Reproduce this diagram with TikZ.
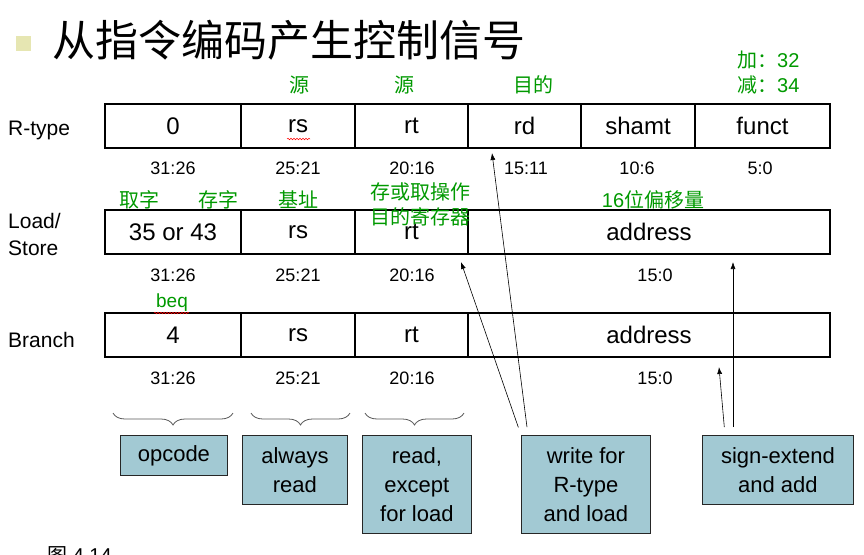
\documentclass[tikz,border=0pt]{standalone}
\usepackage{fontspec}
\setmainfont{Liberation Sans}
\newfontfamily\cjk{Noto Sans CJK SC}
\usetikzlibrary{arrows.meta,decorations.pathreplacing,decorations.pathmorphing}

\definecolor{notegreen}{RGB}{0,153,0}
\definecolor{boxblue}{RGB}{162,201,211}
\definecolor{bulletcol}{RGB}{230,230,178}
\newcommand\fsz[2]{\fontsize{#1}{#2}\selectfont}

\tikzset{
  field/.style={draw, line width=1.8pt, minimum height=44pt, inner sep=0pt, font=\fsz{24}{28}},
  bits/.style={font=\fsz{18}{22}},
  note/.style={text=notegreen, font=\fsz{20}{24}\cjk, inner sep=0pt},
  rowname/.style={anchor=west, font=\fsz{21}{27}, align=left, inner sep=0pt},
  infobox/.style={draw=black!85, line width=0.8pt, fill=boxblue, anchor=north west,
    align=center, inner sep=0pt, font=\fsz{22}{29}},
  pointer/.style={-{Latex[length=7pt,width=5pt]}, line width=0.6pt, shorten <=8pt},
  curly/.style={decorate, decoration={brace, mirror, amplitude=12pt}, black!65, line width=0.8pt},
  wavy/.style={red, line width=0.5pt, decorate, decoration={snake, amplitude=0.8pt, segment length=3pt}}
}

\begin{document}
\begin{tikzpicture}[x=1pt,y=-1pt]
  \useasboundingbox (0,0) rectangle (864,554);

  % Draw title
  \fill[bulletcol] (16,36) rectangle (31,51);
  \node[anchor=west, inner sep=0pt, font=\fsz{43}{50}\cjk] (title) at (52,40) {从指令编码产生控制信号};

  % Draw row names
  \node[rowname] (rname) at (8,130) {R-type};
  \node[rowname] (lname) at (8,234) {Load/\\Store};
  \node[rowname] (bname) at (8,340) {Branch};

  % Draw R-type fields
  \node[field, minimum width=136pt] (rop) at (173,126) {0};
  \node[field, minimum width=114pt] (rrs) at (298,126) {rs};
  \node[field, minimum width=113pt] (rrt) at (411.5,126) {rt};
  \node[field, minimum width=113pt] (rrd) at (524.5,126) {rd};
  \node[field, minimum width=114pt] (rsh) at (638,126) {shamt};
  \node[field, minimum width=135pt] (rfn) at (762.5,126) {funct};

  % Draw Load/Store fields
  \node[field, minimum width=136pt] (lop) at (173,232) {35 or 43};
  \node[field, minimum width=114pt] (lrs) at (298,232) {rs};
  \node[field, minimum width=113pt] (lrt) at (411.5,232) {rt};
  \node[field, minimum width=362pt] (lad) at (649,232) {address};

  % Draw Branch fields
  \node[field, minimum width=136pt] (bop) at (173,335) {4};
  \node[field, minimum width=114pt] (brs) at (298,335) {rs};
  \node[field, minimum width=113pt] (brt) at (411.5,335) {rt};
  \node[field, minimum width=362pt] (bad) at (649,335) {address};

  % Draw bit ranges
  \node[bits] (rb1) at (173,168) {31:26};
  \node[bits] (rb2) at (298,168) {25:21};
  \node[bits] (rb3) at (412,168) {20:16};
  \node[bits] (rb4) at (526,168) {15:11};
  \node[bits] (rb5) at (637,168) {10:6};
  \node[bits] (rb6) at (760,168) {5:0};
  \node[bits] (lb1) at (173,275) {31:26};
  \node[bits] (lb2) at (298,275) {25:21};
  \node[bits] (lb3) at (412,275) {20:16};
  \node[bits] (lb4) at (655,275) {15:0};
  \node[bits] (bb1) at (173,378) {31:26};
  \node[bits] (bb2) at (298,378) {25:21};
  \node[bits] (bb3) at (412,378) {20:16};
  \node[bits] (bb4) at (655,378) {15:0};

  % Draw green notes
  \node[note] (nsrc1) at (299,85) {源};
  \node[note] (nsrc2) at (404,85) {源};
  \node[note] (ndst) at (533,85) {目的};
  \node[note, anchor=west] (nadd) at (737,60) {加：\rmfamily 32};
  \node[note, anchor=west] (nsub) at (737,85) {减：\rmfamily 34};
  \node[note] (nlw) at (139,200) {取字};
  \node[note] (nsw) at (218,200) {存字};
  \node[note] (nbase) at (298,200) {基址};
  \node[note, align=center, font=\fsz{20}{25}\cjk] (nreg) at (420,204) {存或取操作\\目的寄存器};
  \node[note] (noff) at (653,200) {\rmfamily 16\cjk 位偏移量};
  \node[note, font=\fsz{19}{24}] (nbeq) at (172,303) {beq};

  % Draw spell marks
  \draw[wavy] (287,139) -- (310,139);
  \draw[wavy] (154,313) -- (189,313);

  % Draw braces
  \draw[curly] (113,413) -- (233,413);
  \draw[curly] (251,413) -- (350,413);
  \draw[curly] (365,413) -- (464,413);

  % Draw explanation boxes
  \node[infobox, minimum width=107pt, minimum height=40pt] (opc) at (120,435) {opcode};
  \node[infobox, minimum width=105pt, minimum height=69pt] (rsread) at (242,435) {always\\read};
  \node[infobox, minimum width=109pt, minimum height=98pt] (rtread) at (362,435) {read,\\except\\for load};
  \node[infobox, minimum width=129pt, minimum height=98pt] (wr) at (521,435) {write for\\R-type\\and load};
  \node[infobox, minimum width=151pt, minimum height=69pt] (sext) at (702,435) {sign-extend\\and add};

  % Draw pointers
  \coordinate (rdtip) at (492,153);
  \coordinate (rttip) at (461,262);
  \coordinate (ltip) at (733,262);
  \coordinate (btip) at (719,367);
  \draw[pointer] ([xshift=7pt]wr.north west) -- (rdtip);
  \draw[pointer] (wr.north west) -- (rttip);
  \draw[pointer] ([xshift=31pt]sext.north west) -- (ltip);
  \draw[pointer] ([xshift=23pt]sext.north west) -- (btip);

  % Draw figure number
  \node[anchor=west, inner sep=0pt, font=\fsz{20}{24}] (fig) at (47,555) {{\cjk 图} 4.14};
\end{tikzpicture}
\end{document}
